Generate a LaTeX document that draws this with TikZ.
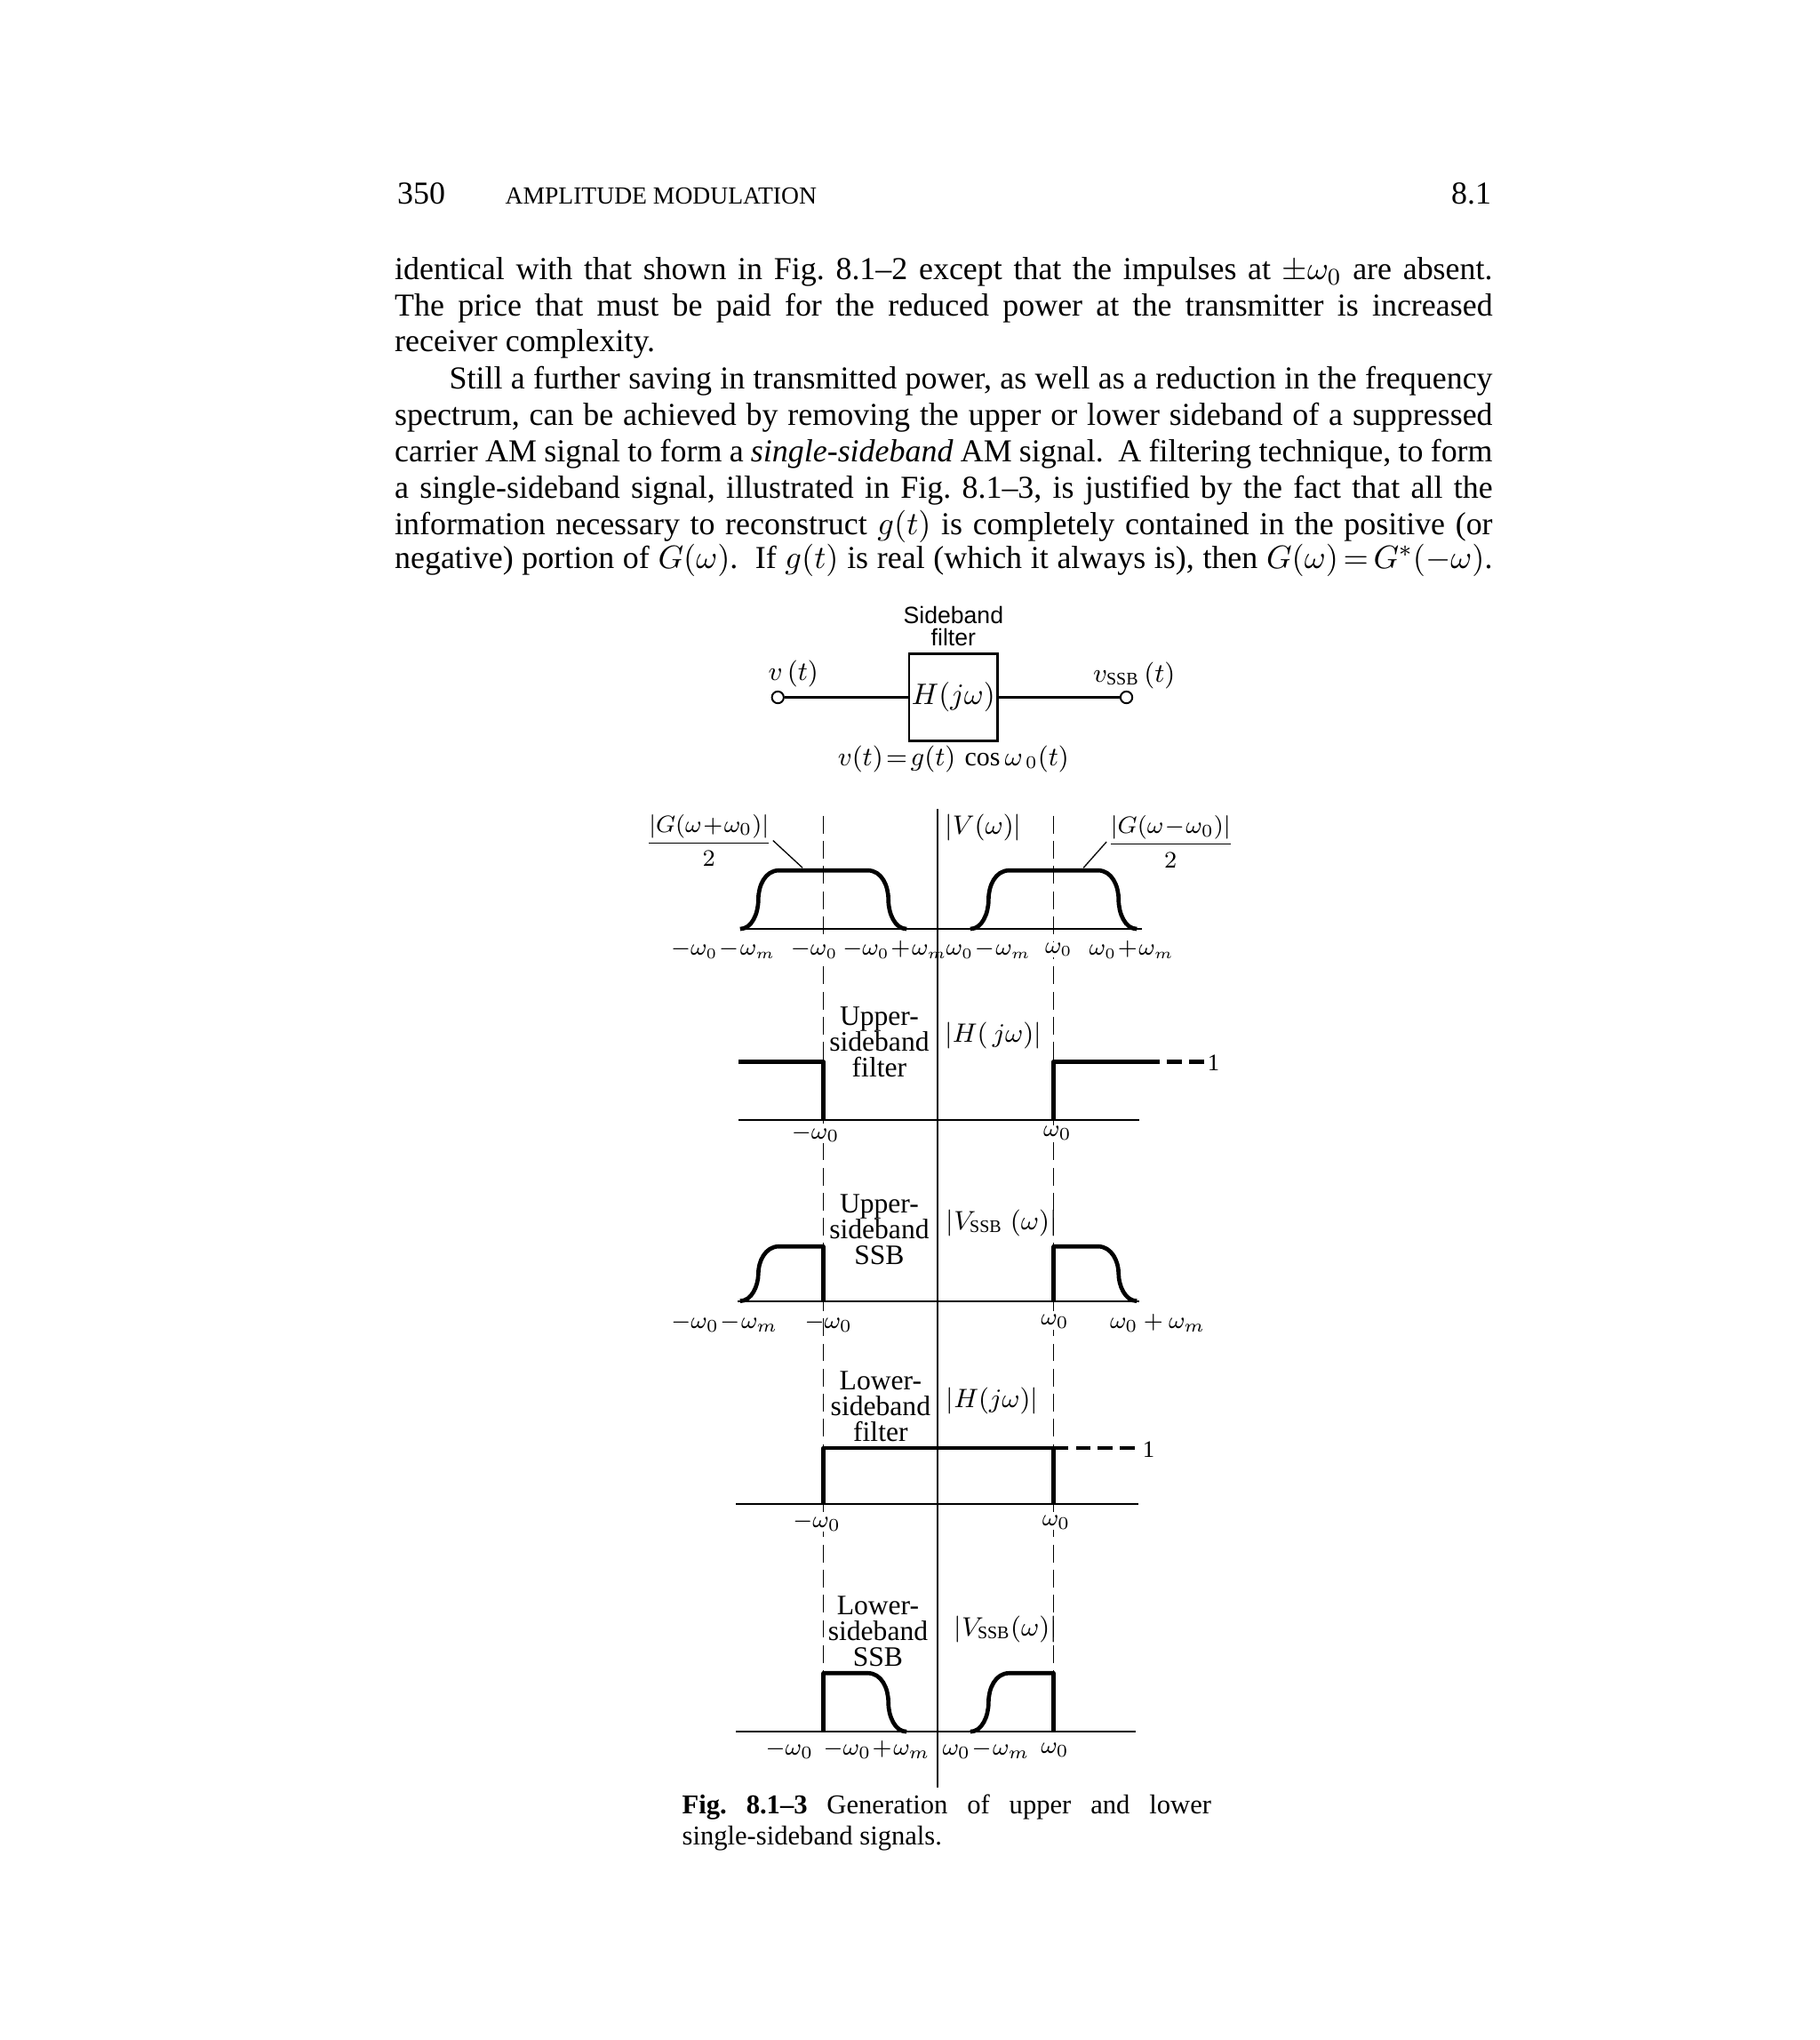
\documentclass[tikz,border=0pt]{standalone}
\usepackage{amsmath}
\usepackage{fontspec}
\setmainfont{Liberation Serif}
\newfontfamily\figsans{Liberation Sans}
\usetikzlibrary{positioning}
\frenchspacing
\begin{document}
\begin{tikzpicture}[x=0.44pt, y=-0.44pt,
    bodyLine/.style={font=\fontsize{10.8}{12.3}\selectfont, inner sep=0pt, anchor=base west},
    headTxt/.style={inner sep=0pt, anchor=base west},
    capLine/.style={font=\fontsize{9.2}{10.6}\selectfont, inner sep=0pt, anchor=base west},
    bandTxt/.style={font=\fontsize{9.5}{8.8}\selectfont, align=center, inner sep=0pt},
    wLbl/.style={font=\fontsize{8}{8}\selectfont, inner sep=0.3pt},
    wMask/.style={wLbl, fill=white},
    magLbl/.style={font=\fontsize{9}{9}\selectfont, inner sep=0pt, anchor=west},
    sigLine/.style={line width=1.4pt, line join=round},
    baseAx/.style={line width=0.6pt},
    wGuide/.style={line width=0.45pt, dash pattern=on 6pt off 2.5pt},
    termPt/.style={draw, circle, line width=0.6pt, inner sep=0pt, minimum size=4pt},
]
\useasboundingbox (0,0) rectangle (1399,1568);

% Running head
\node[headTxt, font=\fontsize{10.8}{12}\selectfont] (pgNum) at (305,157) {350};
\node[headTxt, font=\fontsize{8.3}{10}\selectfont] (runHead) at (388,157) {AMPLITUDE MODULATION};
\node[headTxt, anchor=base east, font=\fontsize{10.8}{12}\selectfont] (secNum) at (1147,157) {8.1};

% Body text
\node[bodyLine] (ln1) at (303,215) {\makebox[371.4pt][s]{identical with that shown in Fig. 8.1--2 except that the impulses at $\pm\omega_0$ are absent.}};
\node[bodyLine] (ln2) at (303,243) {\makebox[371.4pt][s]{The price that must be paid for the reduced power at the transmitter is increased}};
\node[bodyLine] (ln3) at (303,270) {receiver complexity.};
\node[bodyLine] (ln4) at (345,299) {\makebox[352.9pt][s]{Still a further saving in transmitted power, as well as a reduction in the frequency}};
\node[bodyLine] (ln5) at (303,327) {\makebox[371.4pt][s]{spectrum, can be achieved by removing the upper or lower sideband of a suppressed}};
\node[bodyLine] (ln6) at (303,355) {\makebox[371.4pt][s]{carrier AM signal to form a \textit{single-sideband} AM signal.\ \ A filtering technique, to form}};
\node[bodyLine] (ln7) at (303,383) {\makebox[371.4pt][s]{a single-sideband signal, illustrated in Fig. 8.1--3, is justified by the fact that all the}};
\node[bodyLine] (ln8) at (303,411) {\makebox[371.4pt][s]{information necessary to reconstruct $g(t)$ is completely contained in the positive (or}};
\node[bodyLine] (ln9) at (303,437) {\makebox[371.4pt][s]{negative) portion of $G(\omega)$.\ \ If $g(t)$ is real (which it always is), then $G(\omega)\!=\!G^*(-\omega)$.}};

% Sideband filter block
\node[draw, line width=0.8pt, minimum width=30pt, minimum height=29.5pt, inner sep=0pt] (filt) at (733,536) {$H(j\omega)$};
\node[termPt] (vin) at (598,536) {};
\node[termPt] (vout) at (866,536) {};
\draw[line width=0.7pt] (vin) -- (filt);
\draw[line width=0.7pt] (filt) -- (vout);
\node[font=\figsans\fontsize{8}{7.4}\selectfont, align=center, inner sep=0pt, above=2pt of filt] (sbLbl) {Sideband\\filter};
\node[font=\fontsize{9}{9}\selectfont, inner sep=0pt] (vinLbl) at (610,518) {$v\,(t)$};
\node[font=\fontsize{9}{9}\selectfont, inner sep=0pt] (voutLbl) at (872,519) {$v_{\mathrm{SSB}}\,(t)$};
\node[font=\fontsize{9}{9}\selectfont, inner sep=0pt, below=1pt of filt] (eqLbl) {$v(t)\!=\!g(t)\,\cos\omega_{\,0}(t)$};

% Frequency axis and +/- omega_0 guides
\draw[line width=0.6pt] (721,622) -- (721,1374);
\draw[wGuide] (633,627) -- (633,1286);
\draw[wGuide] (810,627) -- (810,1286);

% |V(omega)|
\draw[baseAx] (569,714) -- (878,714);
\draw[sigLine] (569,714) .. controls (578,714) and (583,702) .. (583,691.5) .. controls (583,681) and (588,669) .. (599,669) -- (667,669) .. controls (678,669) and (683,681) .. (683,691.5) .. controls (683,702) and (688,714) .. (697,714);
\draw[sigLine] (746,714) .. controls (755,714) and (760,702) .. (760,691.5) .. controls (760,681) and (765,669) .. (776,669) -- (844,669) .. controls (855,669) and (860,681) .. (860,691.5) .. controls (860,702) and (865,714) .. (874,714);
\node[font=\fontsize{8.5}{8.5}\selectfont, inner sep=0pt] (gPlus) at (545,646) {$\dfrac{|G(\omega\!+\!\omega_0)|}{2}$};
\node[font=\fontsize{8.5}{8.5}\selectfont, inner sep=0pt] (gMinus) at (900,647) {$\dfrac{|G(\omega\!-\!\omega_0)|}{2}$};
\coordinate (gPlusTip) at (617,667);
\coordinate (gMinusTip) at (833,667);
\draw[line width=0.4pt] (gPlus.east) -- (gPlusTip);
\draw[line width=0.4pt] (gMinus.west) -- (gMinusTip);
\node[magLbl] (vMag) at (726,636) {$|V(\omega)|$};
\node[wLbl, font=\fontsize{7.6}{8}\selectfont] (a1) at (556,730) {$-\omega_0\!-\!\omega_m$};
\node[wMask, font=\fontsize{7.6}{8}\selectfont] (a2) at (626,730) {$-\omega_0$};
\node[wLbl, font=\fontsize{7.6}{8}\selectfont] (a3) at (688,730) {$-\omega_0\!+\!\omega_m$};
\node[wLbl, font=\fontsize{7.6}{8}\selectfont] (a4) at (760,730) {$\omega_0\!-\!\omega_m$};
\node[wMask, font=\fontsize{7.6}{8}\selectfont] (a5) at (814,730) {$\omega_0$};
\node[wLbl, font=\fontsize{7.6}{8}\selectfont] (a6) at (870,730) {$\omega_0\!+\!\omega_m$};

% Upper-sideband filter
\draw[baseAx] (568,861) -- (876,861);
\draw[sigLine] (568,816) -- (633,816) -- (633,861);
\draw[sigLine] (810,861) -- (810,816) -- (880,816);
\draw[sigLine, dash pattern=on 5pt off 2.5pt] (880,816) -- (926,816);
\node[font=\fontsize{8}{8}\selectfont, inner sep=0pt] (one1) at (933,817) {1};
\node[bandTxt] (usbF) at (676,801) {Upper-\\sideband\\filter};
\node[magLbl] (hMag1) at (726,796) {$|H(\,j\omega)|$};
\node[wMask] (b1) at (627,871) {$-\omega_0$};
\node[wMask] (b2) at (813,871) {$\omega_0$};

% Upper-sideband SSB
\draw[baseAx] (567,1000) -- (876,1000);
\draw[sigLine] (569,1000) .. controls (578,1000) and (583,988) .. (583,979) .. controls (583,970) and (588,958) .. (599,958) -- (633,958) -- (633,1000);
\draw[sigLine] (810,1000) -- (810,958) -- (844,958) .. controls (855,958) and (860,970) .. (860,979) .. controls (860,988) and (865,1000) .. (874,1000);
\node[bandTxt] (usbS) at (676,945) {Upper-\\sideband\\SSB};
\node[magLbl] (sMag1) at (727,940) {$|V_{\mathrm{SSB}}\;(\omega)|$};
\node[wLbl] (c1) at (557,1017) {$-\omega_0\!-\!\omega_m$};
\node[wLbl] (c2) at (637,1017) {$-\omega_0$};
\node[wMask] (c3) at (811,1016) {$\omega_0$};
\node[wLbl] (c4) at (890,1017) {$\omega_0+\omega_m$};

% Lower-sideband filter
\draw[baseAx] (566,1156) -- (875,1156);
\draw[sigLine] (633,1156) -- (633,1113) -- (810,1113) -- (810,1156);
\draw[sigLine, dash pattern=on 5pt off 2.5pt] (810,1113) -- (876,1113);
\node[font=\fontsize{8}{8}\selectfont, inner sep=0pt] (one2) at (883,1114) {1};
\node[bandTxt] (lsbF) at (677,1081) {Lower-\\sideband\\filter};
\node[magLbl] (hMag2) at (727,1077) {$|H(j\omega)|$};
\node[wMask] (d1) at (628,1170) {$-\omega_0$};
\node[wMask] (d2) at (812,1170) {$\omega_0$};

% Lower-sideband SSB
\draw[baseAx] (566,1331) -- (873,1331);
\draw[sigLine] (633,1331) -- (633,1286) -- (667,1286) .. controls (678,1286) and (683,1298) .. (683,1308.5) .. controls (683,1319) and (688,1331) .. (697,1331);
\draw[sigLine] (746,1331) .. controls (755,1331) and (760,1319) .. (760,1308.5) .. controls (760,1298) and (765,1286) .. (776,1286) -- (810,1286) -- (810,1331);
\node[bandTxt] (lsbS) at (675,1254) {Lower-\\sideband\\SSB};
\node[magLbl] (sMag2) at (733,1252) {$|V_{\mathrm{SSB}}(\omega)|$};
\node[wLbl] (e1) at (607,1345) {$-\omega_0$};
\node[wLbl] (e2) at (674,1345) {$-\omega_0\!+\!\omega_m$};
\node[wLbl] (e3) at (758,1345) {$\omega_0\!-\!\omega_m$};
\node[wLbl] (e4) at (811,1345) {$\omega_0$};

% Caption
\node[capLine] (cap1) at (524,1394) {\makebox[179pt][s]{\textbf{Fig. 8.1--3} Generation of upper and lower}};
\node[capLine] (cap2) at (524,1418) {single-sideband signals.};
\end{tikzpicture}
\end{document}
